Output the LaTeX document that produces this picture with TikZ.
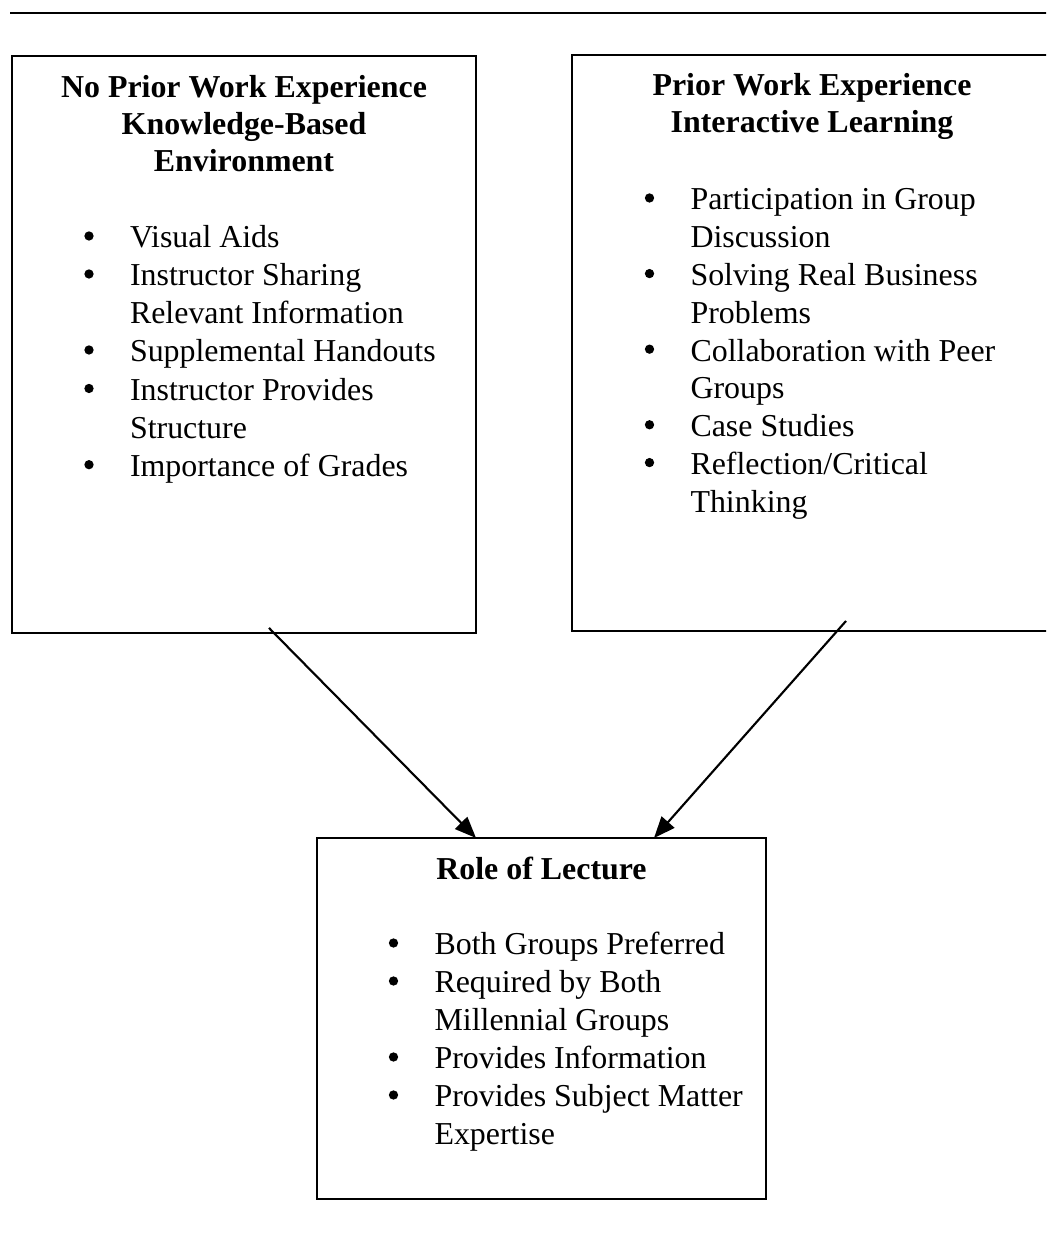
\documentclass[tikz,border=0pt]{standalone}
\usepackage{fontspec}
\setmainfont{Liberation Serif}
\usetikzlibrary{arrows.meta,calc}

% one drawing unit = one pixel of the 1046 x 1255 page
\tikzset{
  x=0.3762pt, y=0.3762pt,
  panel/.style={draw, line width=0.8pt, inner sep=0pt, outer sep=0pt},
  head/.style={anchor=base, inner sep=0pt, font=\bfseries\fontsize{12}{14}\selectfont},
  txt/.style={anchor=base west, inner sep=0pt, font=\fontsize{12}{14}\selectfont},
  dot/.style={circle, fill=black, draw=none, inner sep=0pt, minimum size=3.5pt},
  flow/.style={line width=0.8pt, -{Triangle[length=8pt,width=6.4pt]}}
}
% bulleted first line of an item: name, text x, baseline y, text
\newcommand\bitem[4]{%
  \node[dot] (#1-dot) at (#2-40.5,#3+12) {};
  \node[txt] (#1) at (#2,#3) {#4};}
% continuation line of an item
\newcommand\contline[4]{\node[txt] (#1) at (#2,#3) {#4};}

\begin{document}
\begin{tikzpicture}
\useasboundingbox (0,0) rectangle (1046,1255);
\clip (0,0) rectangle (1046,1255);

% rule across the top
\coordinate (rule-l) at (10,1242);
\coordinate (rule-r) at (1050,1242);
\draw[line width=0.8pt] (rule-l) -- (rule-r);

% the three boxes
\node[panel, minimum width=174.56pt, minimum height=217.07pt] (left) at (244,910.5) {};
\node[panel, minimum width=180.58pt, minimum height=216.69pt] (right) at (812,912) {};
\node[panel, minimum width=168.91pt, minimum height=135.81pt] (lecture) at (541.5,236.5) {};

% left box: no prior work experience
\node[head] (lt1) at (244,1157.5) {No Prior Work Experience};
\node[head] (lt2) at (244,1120.5) {Knowledge-Based};
\node[head] (lt3) at (244,1083.5) {Environment};
\bitem{l1}{129.5}{1007}{Visual Aids}
\bitem{l2}{129.5}{969}{Instructor Sharing}
\contline{l2b}{129.5}{931}{Relevant Information}
\bitem{l3}{129.5}{893}{Supplemental Handouts}
\bitem{l4}{129.5}{854.5}{Instructor Provides}
\contline{l4b}{129.5}{816.5}{Structure}
\bitem{l5}{129.5}{778.3}{Importance of Grades}

% right box: prior work experience
\node[head] (rt1) at (812,1159) {Prior Work Experience};
\node[head] (rt2) at (812,1122.5) {Interactive Learning};
\bitem{r1}{690}{1045}{Participation in Group}
\contline{r1b}{690}{1007.2}{Discussion}
\bitem{r2}{690}{969.4}{Solving Real Business}
\contline{r2b}{690}{931.6}{Problems}
\bitem{r3}{690}{893.8}{Collaboration with Peer}
\contline{r3b}{690}{856}{Groups}
\bitem{r4}{690}{818.2}{Case Studies}
\bitem{r5}{690}{780.4}{Reflection/Critical}
\contline{r5b}{690}{742.6}{Thinking}

% bottom box: role of lecture
\node[head] (bt1) at (541.5,375.5) {Role of Lecture};
\bitem{b1}{434}{300}{Both Groups Preferred}
\bitem{b2}{434}{262}{Required by Both}
\contline{b2b}{434}{224}{Millennial Groups}
\bitem{b3}{434}{186}{Provides Information}
\bitem{b4}{434}{148}{Provides Subject Matter}
\contline{b4b}{434}{110}{Expertise}

% arrows into the lecture box
\draw[flow] ($(left.south west)+(257,5)$) -- ($(lecture.north west)+(159,0)$);
\draw[flow] ($(right.south west)+(274,10)$) -- ($(lecture.north west)+(337,0)$);
\end{tikzpicture}
\end{document}
